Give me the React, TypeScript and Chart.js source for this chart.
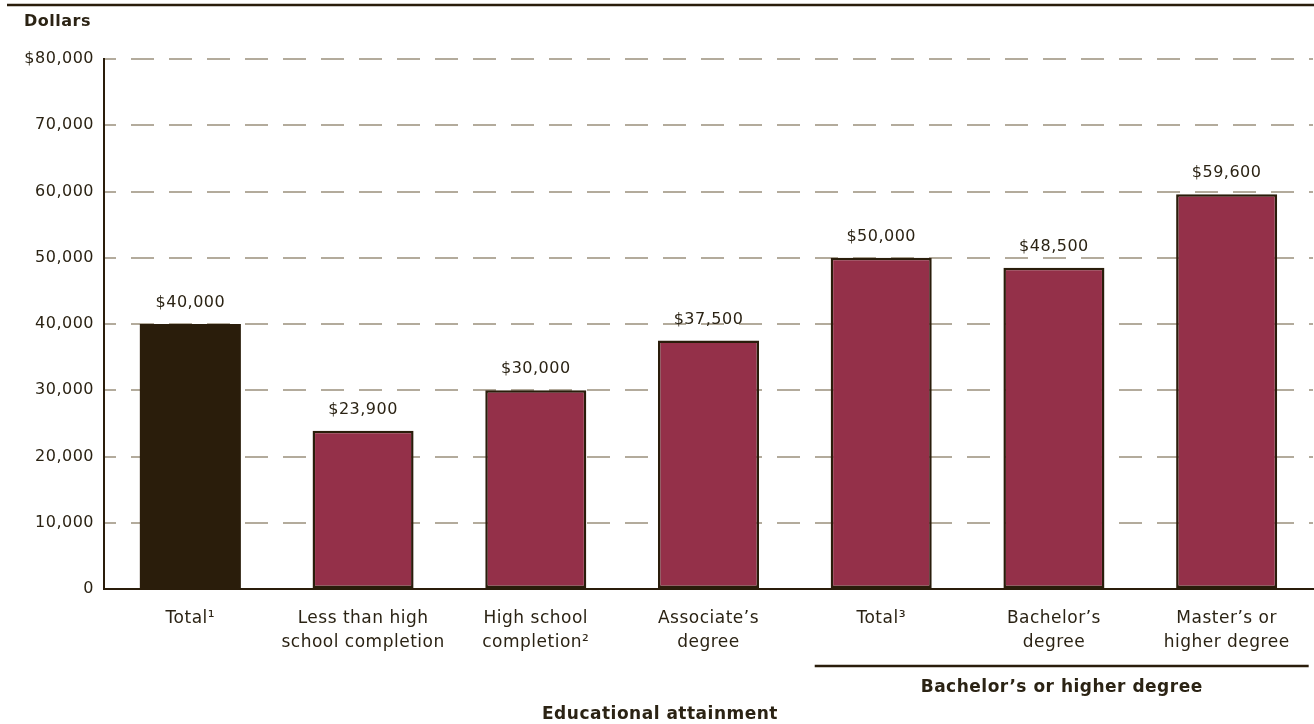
import React, { useEffect, useRef } from "react";
import { Chart, registerables } from "chart.js";

Chart.register(...registerables);

const categories: string[][] = [
  ["Total¹"],
  ["Less than high", "school completion"],
  ["High school", "completion²"],
  ["Associate’s", "degree"],
  ["Total³"],
  ["Bachelor’s", "degree"],
  ["Master’s or", "higher degree"],
];
const earnings: number[] = [40000, 23900, 30000, 37500, 50000, 48500, 59600];
const barColors: string[] = ["#2a1d0b", "#943049", "#943049", "#943049", "#943049", "#943049", "#943049"];
const yTicks: number[] = [0, 10000, 20000, 30000, 40000, 50000, 60000, 70000, 80000];
const yAxisTitle = "Dollars";
const xAxisTitle = "Educational attainment";
const groupTitle = "Bachelor’s or higher degree";
const groupStart = 4;
const groupEnd = 6;

const FONT = "'DejaVu Sans', sans-serif";
const TEXT = "#2b2314";
const DARK = "#2a1d0b";

const fmt = (v: number) => "$" + v.toLocaleString("en-US");

const spacingPlugin = {
  id: "spacing",
  beforeDraw(chart: any) {
    chart.ctx.letterSpacing = "0.5px";
  },
};

const decorPlugin = {
  id: "decor",
  afterDatasetsDraw(chart: any) {
    const { ctx, chartArea, scales } = chart;
    const meta = chart.getDatasetMeta(0);
    ctx.save();
    ctx.letterSpacing = "0.5px";
    // value labels
    ctx.fillStyle = TEXT;
    ctx.font = `16px ${FONT}`;
    ctx.textAlign = "center";
    ctx.textBaseline = "alphabetic";
    meta.data.forEach((bar: any, i: number) => {
      ctx.fillText(fmt(earnings[i]), bar.x, bar.y - 17);
    });
    // top rule
    ctx.strokeStyle = DARK;
    ctx.lineWidth = 2.5;
    ctx.beginPath();
    ctx.moveTo(7, 5);
    ctx.lineTo(chart.width, 5);
    ctx.stroke();
    // y axis title
    ctx.font = `bold 16px ${FONT}`;
    ctx.textAlign = "left";
    ctx.textBaseline = "middle";
    ctx.fillText(yAxisTitle, 24, 22);
    // group bracket
    const x = scales.x;
    const half = (x.getPixelForValue(1) - x.getPixelForValue(0)) / 2;
    const gx1 = x.getPixelForValue(groupStart) - half * 0.77;
    const gx2 = x.getPixelForValue(groupEnd) + half * 0.95;
    ctx.lineWidth = 2.5;
    ctx.beginPath();
    ctx.moveTo(gx1, chartArea.bottom + 77);
    ctx.lineTo(gx2, chartArea.bottom + 77);
    ctx.stroke();
    ctx.font = `bold 17px ${FONT}`;
    ctx.textAlign = "center";
    ctx.fillText(groupTitle, (gx1 + gx2) / 2, chartArea.bottom + 99);
    ctx.fillText(xAxisTitle, 660, chartArea.bottom + 126);
    ctx.restore();
  },
};

export default function App() {
  const ref = useRef<HTMLCanvasElement | null>(null);
  useEffect(() => {
    document.body.style.margin = "0";
    if (!ref.current) return;
    const chart = new Chart(ref.current, {
      type: "bar",
      data: {
        labels: categories,
        datasets: [
          {
            data: earnings,
            backgroundColor: barColors,
            borderColor: DARK,
            borderWidth: (c: any) => (c.dataIndex === 0 ? 0 : 2.5),
            borderSkipped: false,
            barPercentage: 0.585,
            categoryPercentage: 1,
          },
        ],
      },
      options: {
        animation: false,
        responsive: true,
        maintainAspectRatio: false,
        layout: { padding: { top: 59, right: 1, bottom: 0, left: 0 } },
        plugins: {
          legend: { display: false },
          tooltip: { enabled: false },
        },
        scales: {
          x: {
            grid: { display: false },
            border: { display: true, color: DARK, width: 2 },
            ticks: {
              color: TEXT,
              font: { family: FONT, size: 17, lineHeight: 1.41 },
              padding: 10,
              maxRotation: 0,
              autoSkip: false,
            },
            afterFit(scale: any) {
              scale.height = 135;
            },
          },
          y: {
            min: 0,
            max: 80000,
            afterBuildTicks(scale: any) {
              scale.ticks = yTicks.map((v) => ({ value: v }));
            },
            grid: {
              color: "#b3ab9c",
              lineWidth: 2,
              drawTicks: false,
              tickLength: 0,
            },
            border: { display: true, color: DARK, width: 2, dash: [23, 15], dashOffset: 12 },
            ticks: {
              color: TEXT,
              font: { family: FONT, size: 16 },
              padding: 10,
              callback: (v: any) => (v === 80000 ? fmt(v) : Number(v).toLocaleString("en-US")),
            },
            afterFit(scale: any) {
              scale.width = 104;
            },
          },
        },
      },
      plugins: [spacingPlugin, decorPlugin],
    });
    return () => chart.destroy();
  }, []);
  return (
    <div style={{ width: 1314, height: 724, position: "relative" }}>
      <canvas ref={ref} />
    </div>
  );
}
